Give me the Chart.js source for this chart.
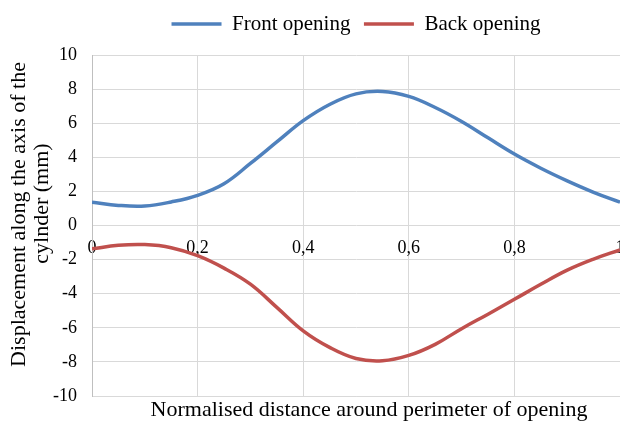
<!DOCTYPE html>
<html>
<head>
<meta charset="utf-8">
<script src="https://cdn.jsdelivr.net/npm/chart.js@4/dist/chart.umd.min.js"></script>
<style>
  body { margin: 0; background: #fff; }
  #wrap { width: 620px; height: 421px; overflow: hidden; }
</style>
</head>
<body>
<div id="wrap"><canvas id="chart" width="738" height="440"></canvas></div>
<script>
// normalised distance around the perimeter
const positions = [0, 0.05, 0.1, 0.15, 0.2, 0.25, 0.3, 0.35, 0.4, 0.45, 0.5,
                   0.55, 0.6, 0.65, 0.7, 0.75, 0.8, 0.85, 0.9, 0.95, 1];
// displacement (mm)
const frontOpening = [1.37, 1.18, 1.14, 1.38, 1.77, 2.45, 3.64, 4.9, 6.15, 7.1, 7.72,
                      7.86, 7.57, 6.92, 6.1, 5.14, 4.19, 3.36, 2.62, 1.95, 1.37];
const backOpening = [-1.37, -1.16, -1.12, -1.3, -1.77, -2.5, -3.44, -4.8, -6.18, -7.15, -7.8,
                     -7.93, -7.62, -6.97, -6.05, -5.2, -4.33, -3.45, -2.62, -1.97, -1.43];
const xTickLabels = ['0', '0,2', '0,4', '0,6', '0,8', '1'];

const toPoints = (values) => values.map((v, i) => ({ x: positions[i], y: v }));

Chart.defaults.font.family = "'Liberation Serif', 'Times New Roman', serif";
Chart.defaults.color = '#000';

const ctx = document.getElementById('chart').getContext('2d');
new Chart(ctx, {
    type: 'line',
    data: {
        datasets: [{
            label: 'Front opening',
            data: toPoints(frontOpening),
            borderColor: '#4f81bd',
            backgroundColor: '#4f81bd',
            borderWidth: 3.5,
            pointRadius: 0,
            tension: 0.4
        }, {
            label: 'Back opening',
            data: toPoints(backOpening),
            borderColor: '#c0504d',
            backgroundColor: '#c0504d',
            borderWidth: 3.5,
            pointRadius: 0,
            tension: 0.4
        }]
    },
    options: {
        responsive: false,
        animation: false,
        plugins: {
            tooltip: { enabled: false },
            legend: {
                position: 'top',
                fullSize: false,
                labels: {
                    usePointStyle: true,
                    pointStyle: 'line',
                    pointStyleWidth: 50,
                    padding: 13.5,
                    font: { size: 21 }
                }
            },
            // empty spacer between legend and plot
            subtitle: {
                display: true,
                text: '',
                weight: 500,
                padding: 0,
                font: { size: 10.5, lineHeight: 1 }
            },
            // x axis title, centred on the whole (wider, clipped) canvas
            title: {
                display: true,
                position: 'bottom',
                text: 'Normalised distance around perimeter of opening',
                font: { size: 22, weight: 'normal', lineHeight: 1.2 },
                padding: { top: 1.3, bottom: 16.3 }
            }
        },
        scales: {
            x: {
                type: 'linear',
                min: 0,
                max: 1,
                ticks: { display: false, stepSize: 0.2 },
                grid: { color: '#d9d9d9', drawTicks: false },
                border: { color: '#d9d9d9' },
                afterFit: (scale) => { scale.height = 0; }
            },
            // tick labels sitting on the zero line
            x2: {
                type: 'linear',
                position: { y: 0 },
                min: 0,
                max: 1,
                z: 1,
                ticks: {
                    stepSize: 0.2,
                    padding: 12,
                    maxRotation: 0,
                    font: { size: 18 },
                    callback: (value, index) => xTickLabels[index]
                },
                grid: { display: false, drawTicks: false },
                border: { display: false },
                afterFit: (scale) => { scale.paddingLeft = 0; scale.paddingRight = 0; }
            },
            y: {
                min: -10,
                max: 10,
                ticks: { stepSize: 2, padding: 15, font: { size: 18 } },
                grid: { color: '#d9d9d9', drawTicks: false },
                border: { color: '#bfbfbf' },
                title: {
                    display: true,
                    // leading spaces nudge the lines up a little, as in the original
                    text: ['    Displacement along the axis of the', '        cylnder (mm)'],
                    font: { size: 22, lineHeight: 1.06 },
                    padding: { top: 7.5, bottom: 0 }
                },
                afterFit: (scale) => { scale.width = 92; }
            },
            // empty strip to the right of the plot (falls outside the window)
            yRight: {
                position: 'right',
                ticks: { display: false },
                grid: { display: false, drawTicks: false },
                border: { display: false },
                afterFit: (scale) => { scale.width = 118; }
            }
        }
    }
});
</script>
</body>
</html>
